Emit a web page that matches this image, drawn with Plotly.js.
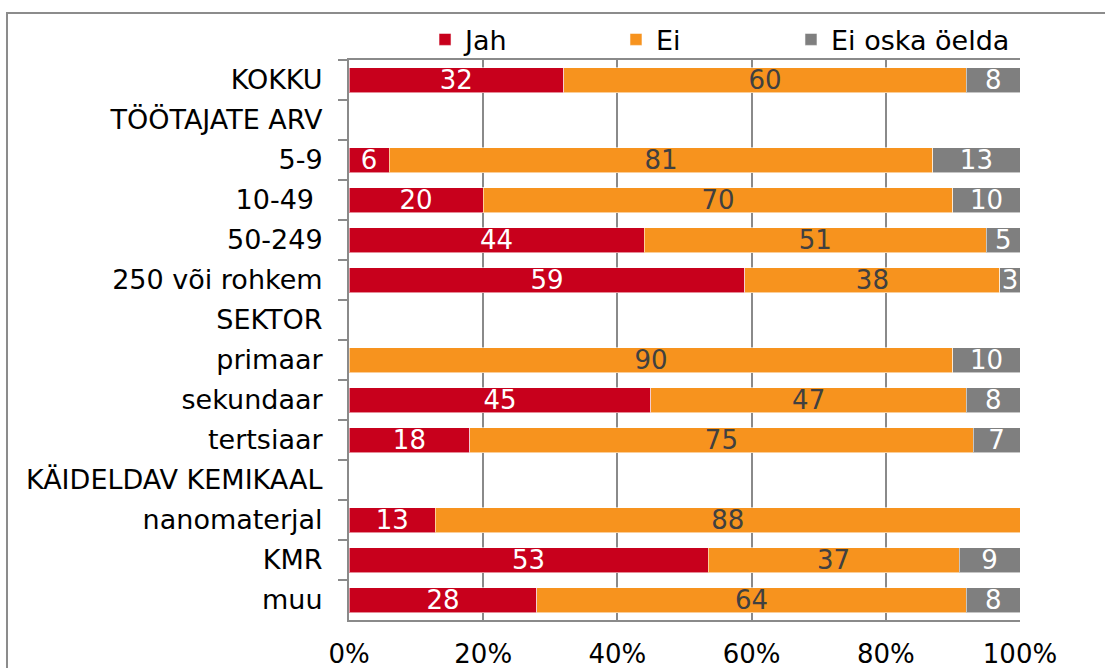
<!DOCTYPE html>
<html>
<head>
<meta charset="utf-8">
<script src="https://cdn.plot.ly/plotly-3.0.1.min.js"></script>
<style>
  html, body { margin: 0; padding: 0; background: #fff; }
  #chart { width: 1105px; height: 668px; }
</style>
</head>
<body>
<div id="chart"></div>
<script>
// rows top to bottom; the capitalised ones are group headers with no bar
var categories = [
  "KOKKU",
  "TÖÖTAJATE ARV",
  "5-9",
  "10-49\u00a0",
  "50-249",
  "250 või rohkem",
  "SEKTOR",
  "primaar",
  "sekundaar",
  "tertsiaar",
  "KÄIDELDAV KEMIKAAL",
  "nanomaterjal",
  "KMR",
  "muu"
];
var jah = [32, null, 6, 20, 44, 59, null, 0, 45, 18, null, 13, 53, 28];
var ei = [60, null, 81, 70, 51, 38, null, 90, 47, 75, null, 88, 37, 64];
var eiOska = [8, null, 13, 10, 5, 3, null, 10, 8, 7, null, 0, 9, 8];
var tickVals = [0, 20, 40, 60, 80, 100];
var tickText = ["0%", "20%", "40%", "60%", "80%", "100%"];

var font = "DejaVu Sans, Verdana, sans-serif";
var gridCol = "#8a8a8a";

function labels(arr) {
  return arr.map(function (v) { return v ? String(v) : ""; });
}

function series(name, vals, color, txtColor, legendId) {
  return {
    type: "bar",
    orientation: "h",
    name: name,
    legend: legendId,
    y: categories,
    x: vals,
    text: labels(vals),
    textposition: "inside",
    insidetextanchor: "middle",
    textangle: 0,
    constraintext: "none",
    cliponaxis: false,
    textfont: { family: font, size: 26, color: txtColor },
    hoverinfo: "skip",
    marker: { color: color, line: { color: "rgba(255,255,255,0.55)", width: 1 } }
  };
}

var data = [
  series("Jah", jah, "#C8001C", "#ffffff", "legend"),
  series("Ei", ei, "#F7931E", "#404040", "legend2"),
  series("Ei oska öelda", eiOska, "#7F7F7F", "#ffffff", "legend3")
];

// one legend box per entry so each sits where the reference puts it
function legendAt(x) {
  return {
    orientation: "h",
    x: x,
    xanchor: "left",
    y: 1.036,
    yanchor: "middle",
    font: { family: font, size: 27, color: "#000000" },
    bgcolor: "rgba(0,0,0,0)"
  };
}

var layout = {
  width: 1105,
  height: 668,
  barmode: "stack",
  barnorm: "percent",
  bargap: 0.375,
  paper_bgcolor: "#ffffff",
  plot_bgcolor: "#ffffff",
  margin: { l: 349, r: 85, t: 60, b: 48, pad: 0 },
  font: { family: font, size: 24, color: "#000000" },
  showlegend: true,
  legend: legendAt(0.1133),
  legend2: legendAt(0.3979),
  legend3: legendAt(0.6587),
  xaxis: {
    range: [0, 100.0001],
    tickvals: tickVals,
    ticktext: tickText,
    showgrid: true,
    gridcolor: gridCol,
    gridwidth: 2,
    zeroline: false,
    showline: true,
    linecolor: gridCol,
    linewidth: 2,
    mirror: true,
    ticks: "",
    ticklabelstandoff: 10,
    tickfont: { family: font, size: 26, color: "#000000" },
    fixedrange: true
  },
  yaxis: {
    type: "category",
    autorange: "reversed",
    showgrid: false,
    zeroline: false,
    showline: true,
    linecolor: gridCol,
    linewidth: 2,
    ticks: "outside",
    tickson: "boundaries",
    ticklen: 9,
    tickwidth: 2,
    tickcolor: gridCol,
    ticklabelstandoff: 19,
    tickfont: { family: font, size: 27, color: "#000000" },
    fixedrange: true
  },
  shapes: [
    {
      type: "rect",
      xref: "paper",
      yref: "paper",
      x0: -0.5097,
      x1: 1.3,
      y0: -0.3,
      y1: 1.0839,
      line: { color: "#8c8c8c", width: 2 },
      fillcolor: "rgba(0,0,0,0)",
      layer: "below"
    }
  ]
};

Plotly.newPlot("chart", data, layout, { displayModeBar: false, staticPlot: true });
</script>
</body>
</html>
